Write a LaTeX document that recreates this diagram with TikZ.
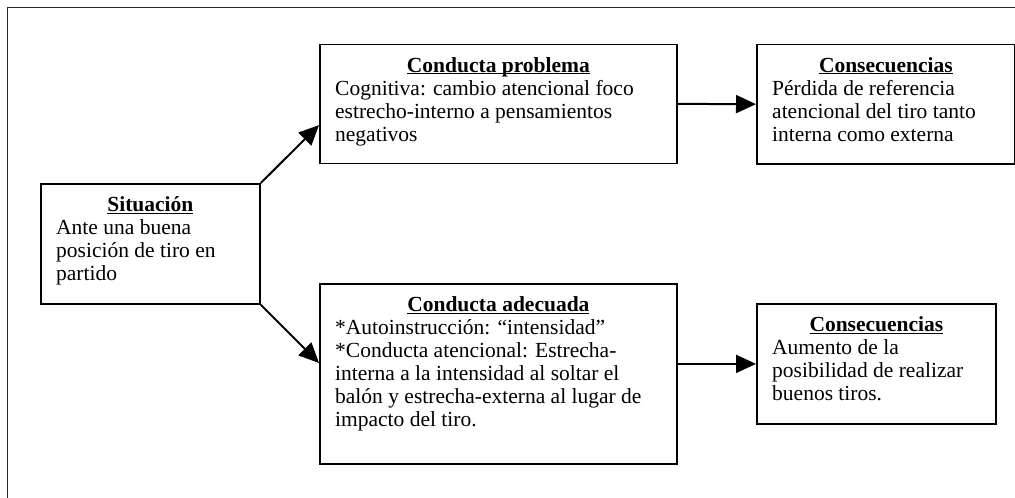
\documentclass[tikz,border=0pt]{standalone}
\usepackage{fontspec}
\setmainfont{Liberation Serif}
\usetikzlibrary{arrows.meta,calc}
\tikzset{
  box/.style={draw=black, line width=1.8pt, rectangle, inner sep=0pt, anchor=north west},
  ttl/.style={anchor=base, inner sep=0pt, font=\fontsize{21.5}{23}\selectfont\bfseries},
  body/.style={anchor=north west, inner sep=0pt, align=left, font=\fontsize{21.5}{23}\selectfont},
  arr/.style={line width=2pt, -{Triangle[length=20pt,width=18pt]}},
  frame/.style={line width=0.8pt, draw=black!85}
}
\newcommand{\fs}{\rule{0pt}{20pt}}
\newcommand{\myul}[1]{\setbox0\hbox{#1}\rlap{\rule[-2.2pt]{\wd0}{1.1pt}}\box0}
\begin{document}
\begin{tikzpicture}[x=1pt,y=-1pt]
\useasboundingbox (0,0) rectangle (1015,498);
\draw[frame] (1020,7.5) -- (7.5,7.5) -- (7.5,505);
% boxes
\node[box, minimum width=219pt, minimum height=120pt] (sit) at (40,183) {};
\node[box, minimum width=357pt, minimum height=119pt] (prob) at (319,43.5) {};
\node[box, minimum width=258pt, minimum height=119.5pt] (cons1) at (756,43.5) {};
\node[box, minimum width=357pt, minimum height=180pt] (adec) at (319,283) {};
\node[box, minimum width=239pt, minimum height=120pt] (cons2) at (756,303) {};
% titles
\node[ttl] (sitt) at ($(sit.north)+(0,28.5)$) {\myul{Situación}};
\node[ttl] (probt) at ($(prob.north)+(0,28.5)$) {\myul{Conducta problema}};
\node[ttl] (cons1t) at ($(cons1.north)+(0,28.5)$) {\myul{Consecuencias}};
\node[ttl] (adect) at ($(adec.north)+(0,28.5)$) {\myul{Conducta adecuada}};
\node[ttl] (cons2t) at ($(cons2.north)+(0,28.5)$) {\myul{Consecuencias}};
% bodies
\node[body] (sitb) at ($(sit.north west)+(16,31.5)$) {\fs Ante una buena\\posición de tiro en\\partido};
\node[body] (probb) at ($(prob.north west)+(16,31.5)$) {\fs Cognitiva: cambio atencional foco\\estrecho-interno a pensamientos\\negativos};
\node[body] (cons1b) at ($(cons1.north west)+(16,31.5)$) {\fs Pérdida de referencia\\atencional del tiro tanto\\interna como externa};
\node[body] (adecb) at ($(adec.north west)+(16,31.5)$) {\fs *Autoinstrucción: “intensidad”\\*Conducta atencional: Estrecha-\\interna a la intensidad al soltar el\\balón y estrecha-externa al lugar de\\impacto del tiro.};
\node[body] (cons2b) at ($(cons2.north west)+(16,31.5)$) {\fs Aumento de la\\posibilidad de realizar\\buenos tiros.};
% connectors
\draw[arr] (sit.north east) -- ($(prob.south west)!0.325!(prob.north west)$);
\draw[arr] (sit.south east) -- ($(adec.north west)!0.44!(adec.south west)$);
\draw[arr] (prob.east) -- (cons1.west);
\draw[arr] (adec.east |- cons2.west) -- (cons2.west);
\end{tikzpicture}
\end{document}
